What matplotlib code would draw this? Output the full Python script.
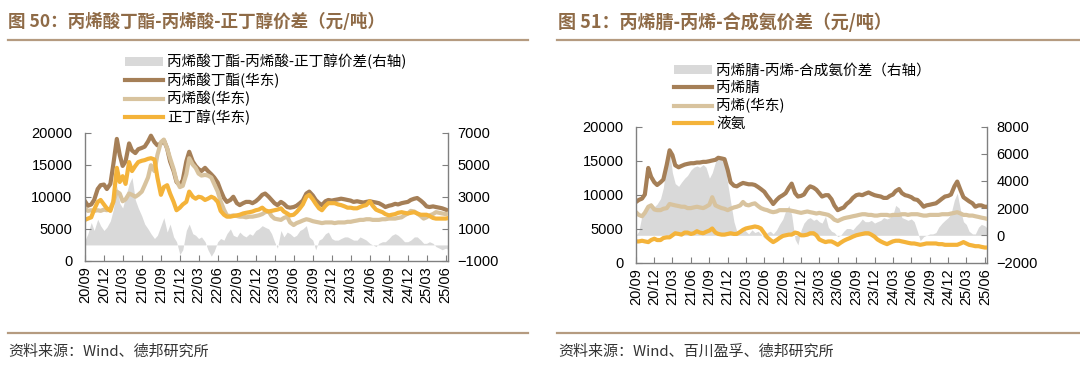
import pandas as pd
import matplotlib.pyplot as plt
from matplotlib.lines import Line2D
from matplotlib.patches import Patch


# ============================================================
# DATA (semi-monthly readings, Sep-2020 .. Jun-2025)
# ============================================================

dates = pd.date_range("2020-09-01", periods=116, freq="SMS")
ticks = pd.date_range("2020-09-01", "2025-06-01", freq="3MS")
tick_labels = [d.strftime("%y/%m") for d in ticks]

# 图50
butyl_acrylate = [
    9300, 8600, 8800, 9500, 11200, 11800, 11900, 11200, 12000, 15000,
    19000, 16500, 14800, 15500, 18300, 17200, 16800, 17400, 17600, 17800,
    18600, 19500, 18500, 18000, 18300, 18800, 17500, 15500, 14000, 12300,
    11800, 12600, 15500, 17000, 15500, 14800, 14300, 14000, 14500, 14000,
    13500, 13000, 12200, 11000, 9800, 9200, 9500, 10000, 9000, 8700,
    9000, 9200, 9200, 9000, 9300, 9700, 10300, 10500, 10000, 9500,
    9000, 8700, 9200, 8900, 8400, 8300, 8400, 8600, 9000, 9400,
    10500, 10800, 10200, 9500, 9000, 8700, 9300, 9500, 9400, 9500,
    9600, 9700, 9600, 9500, 9400, 9200, 9300, 9200, 9100, 9200,
    9300, 9200, 9100, 9000, 8700, 8400, 8600, 8700, 8900, 8800,
    9000, 9100, 9200, 9500, 9700, 9800, 9400, 9000, 8500, 8400,
    8500, 8400, 8300, 8200, 8000, 7800,
]
acrylic_acid = [
    8200, 7800, 7900, 7800, 7900, 7800, 8000, 7900, 8200, 9200,
    10800, 10500, 9300, 9600, 10500, 10300, 10000, 10300, 10800, 11800,
    13000, 14900, 14000, 16500, 18500, 18900, 17500, 16000, 14300, 12500,
    11500, 11700, 13500, 16000, 15000, 14500, 13600, 13300, 13400, 13300,
    13000, 12000, 10800, 9300, 8000, 7100, 7000, 7100, 7000, 6900,
    6900, 6800, 6900, 6900, 7000, 7100, 7300, 7600, 7700, 7000,
    6600, 6500, 6400, 6700, 6900, 6000, 5600, 5900, 6100, 6300,
    6500, 6400, 6200, 6100, 6000, 5900, 6000, 6000, 6000, 5900,
    6000, 6000, 6000, 6100, 6100, 6200, 6300, 6400, 6400, 6500,
    6500, 6400, 6400, 6400, 6500, 6500, 6600, 6600, 6600, 6700,
    6800, 7100, 7400, 7800, 7700, 7400, 7000, 6600, 6800, 7100,
    7300, 7600, 7500, 7400, 7300, 7400,
]
n_butanol = [
    6400, 6600, 6800, 8000, 9200, 9500, 8800, 8200, 7800, 9200,
    14500, 12300, 13200, 12000, 15400, 14000, 14800, 15400, 15600, 15700,
    15900, 16000, 15800, 13000, 10300, 11500, 11800, 10500, 9200, 7900,
    8300, 8800, 9200, 10800, 10000, 9700, 10000, 9900, 9500, 9700,
    10000, 9800, 9200, 7800, 7200, 6900, 6900, 7000, 7100, 7200,
    7400, 7500, 7600, 7700, 7900, 8000, 8300, 7900, 7700, 7800,
    7900, 8000, 8200, 7700, 7400, 7100, 7200, 7600, 8200, 8800,
    10000, 10300, 9600, 8900, 8200, 7900, 8600, 9000, 9000, 9000,
    8800, 8700, 8500, 8300, 8300, 8200, 8200, 8400, 8600, 8700,
    9300, 8600, 8000, 7800, 7600, 7300, 7100, 7200, 7300, 7500,
    7600, 7500, 7400, 7500, 7600, 7400, 7200, 7200, 7200, 7000,
    6700, 6600, 6600, 6600, 6600, 6700,
]
spread_50 = [
    300, 700, 1400, 900, 1600, 1200, 900, 1100, 1500, 2200,
    3700, 2600, 2300, 3000, 3800, 4200, 2800, 2300, 1800, 1300,
    1000, 700, 400, 600, 1200, 1700, 800, 1300, 500, 200,
    -600, -300, 900, 1300, 700, 600, 400, 500, 200, -300,
    -700, -400, 200, 400, 300, 700, 1000, 600, 500, 800,
    600, 500, 700, 600, 900, 1000, 1200, 1100, 1000, 700,
    200, -200, 900, 500, 800, 700, 500, 600, 900, 1000,
    1200, 500, 300, -300, 300, 400, 700, 800, 400, 300,
    300, 400, 500, 500, 400, 300, 300, 500, 400, 300,
    100, 0, -100, 100, 200, 200, 400, 600, 700, 600,
    400, 200, 200, 300, 500, 500, 300, 100, 100, 200,
    100, -100, -200, -300, -200, -300,
]

# 图51
acrylonitrile = [
    8900, 9200, 9400, 10000, 13900, 12600, 11800, 11400, 11800, 12200,
    14400, 16500, 15800, 14300, 14000, 14200, 14400, 14500, 14600, 14600,
    14700, 14700, 14800, 14800, 14900, 15000, 15100, 15400, 15300, 15200,
    13600, 11800, 11300, 11200, 11500, 11700, 11600, 11500, 11500, 11400,
    11100, 10800, 10400, 9800, 9200, 8600, 9200, 9600, 9900, 10200,
    11000, 11600, 10200, 9700, 9800, 10000, 10800, 11200, 11000, 10700,
    10200, 9700, 9900, 9900, 9300, 8400, 7700, 7900, 8100, 8600,
    9000, 9500, 9900, 10000, 9900, 10100, 10300, 10100, 9900, 9800,
    9700, 9500, 9500, 9800, 10000, 10500, 10800, 10200, 9900, 9800,
    9600, 9300, 9200, 8800, 8200, 8400, 8500, 8600, 8700, 9000,
    9400, 9700, 9800, 10000, 11200, 11900, 10600, 9600, 9300, 9000,
    8700, 8200, 8400, 8400, 8200, 8200,
]
propylene = [
    7400, 7000, 6800, 7300, 8200, 8400, 7800, 7700, 7700, 7900,
    8000, 8600, 8500, 8400, 8300, 8200, 8200, 8000, 8000, 8100,
    8200, 8100, 8000, 8200, 8500, 9600, 8400, 8200, 8000, 7900,
    7700, 7900, 8100, 8200, 8400, 8900, 8500, 8400, 8600, 8700,
    8300, 8000, 7800, 7700, 7500, 7400, 7500, 7700, 7700, 7700,
    7700, 7600, 7500, 7400, 7300, 7400, 7500, 7400, 7300, 7200,
    7300, 7200, 7100, 7000, 6700, 6300, 6100, 6300, 6500, 6600,
    6700, 6800, 6900, 7000, 7100, 7100, 7000, 7000, 6900, 6900,
    7000, 7000, 7000, 6900, 7000, 7000, 7000, 7100, 7100, 7000,
    7100, 7100, 7100, 7000, 6900, 6900, 7000, 7000, 7000, 7000,
    7100, 7100, 7100, 7200, 7300, 7400, 7200, 7000, 7000, 6900,
    6900, 6800, 6700, 6600, 6500, 6400,
]
ammonia = [
    3100, 3100, 3200, 3100, 3000, 3300, 3500, 3300, 3300, 3600,
    3700, 3700, 4000, 4300, 4200, 4100, 4400, 4400, 4200, 4300,
    4600, 4400, 4300, 4500, 4700, 5000, 4400, 4200, 4100, 4100,
    4200, 4300, 4200, 4200, 4500, 4800, 5000, 5100, 5200, 5300,
    5200, 5000, 4300, 3700, 3300, 3000, 3300, 3600, 3900, 4000,
    4100, 4100, 4400, 4300, 4000, 4000, 4100, 4300, 4300, 4000,
    3400, 3200, 3000, 3100, 3100, 2900, 2600, 2900, 3200, 3400,
    3600, 3800, 4000, 4100, 4200, 4300, 4300, 4100, 3800, 3400,
    3100, 2900, 2700, 2900, 3100, 3200, 3200, 3100, 3000, 2900,
    2800, 2800, 2700, 2600, 2700, 2800, 2800, 2800, 2800, 2700,
    2700, 2600, 2600, 2600, 2600, 2600, 2800, 3000, 2800, 2600,
    2500, 2400, 2400, 2300, 2200, 2200,
]
spread_51 = [
    0, 300, 1500, 1800, 2200, 2400, 2100, 2300, 2700, 3500,
    5500, 6200, 4600, 3800, 3600, 3900, 4200, 4400, 4800, 5000,
    5100, 5000, 5200, 5000, 4200, 4600, 5400, 5800, 5600, 5500,
    3800, 2500, 1000, 300, 200, 500, 300, 100, 400, 200,
    300, 100, -200, 200, 300, 100, 400, 800, 1200, 1800,
    2200, 1500, -300, -700, 400, 900, 1200, 1300, 1100, 1200,
    1000, 900, 1400, 600, 300, 200, -100, 0, 300, 500,
    500, 400, 700, 900, 1200, 1000, 1000, 1100, 900, 1000,
    1100, 1300, 1200, 1300, 1500, 2200, 2000, 1300, 1200, 1100,
    1200, 1000, 300, -400, -100, 0, 100, 100, 200, 600,
    900, 1100, 1300, 1600, 2600, 3100, 1800, 1000, 800, 300,
    100, 100, 600, 800, 700, 500,
]


# ============================================================
# STYLE
# ============================================================

plt.rcParams["font.family"] = ["Liberation Sans", "Noto Sans CJK SC"]
CJK = ["Noto Sans CJK SC", "DejaVu Sans"]

GRAY = "#D9D9D9"
BROWN = "#A57F57"
TAN = "#D8C39E"
ORANGE = "#F4B33A"
TITLE_C = "#8F6B47"
RULE_C = "#B59B80"
AXIS_C = "#808080"

W, H = 1080, 380
fig = plt.figure(figsize=(W / 100, H / 100), dpi=100)


def fx(px):
    return px / W


def fy(py):
    return 1 - py / H


def panel(box, title, title_size, source, tx, rule, lines, spread,
          spread_name, rlim, rticks, leg_xy, xend):
    x0, y0, x1, y1 = box
    ax = fig.add_axes([fx(x0), fy(y1), fx(x1 - x0), (y1 - y0) / H])
    ax2 = ax.twinx()

    ax2.fill_between(dates, 0, spread, color=GRAY, lw=0)
    for vals, color, name in lines:
        ax.plot(dates, vals, color=color, lw=3.0, solid_joinstyle="round")

    ax.set_zorder(ax2.get_zorder() + 1)
    ax.patch.set_visible(False)

    ax.set_ylim(0, 20000)
    ax.set_yticks(range(0, 20001, 5000))
    ax2.set_ylim(*rlim)
    ax2.set_yticks(rticks)
    ax.set_xlim(pd.Timestamp("2020-09-01"), xend)
    ax.set_xticks(ticks)
    ax.set_xticklabels(tick_labels, rotation=90)

    for a in (ax, ax2):
        for s in a.spines.values():
            s.set_visible(False)
    ax.spines["left"].set_visible(True)
    ax.spines["bottom"].set_visible(True)
    ax2.spines["right"].set_visible(True)
    for s in (ax.spines["left"], ax.spines["bottom"], ax2.spines["right"]):
        s.set_color(AXIS_C)
        s.set_linewidth(1)

    ax.tick_params(axis="y", direction="in", length=4, color=AXIS_C,
                   labelsize=10.5, pad=9)
    ax.tick_params(axis="x", direction="in", length=4, color=AXIS_C,
                   labelsize=10.5, pad=4)
    ax2.tick_params(axis="y", direction="in", length=4, color=AXIS_C,
                    labelsize=10.5, pad=7)

    # legend
    handles = [Patch(color=GRAY, lw=0)]
    labels = [spread_name]
    for vals, color, name in lines:
        handles.append(Line2D([], [], color=color, lw=3))
        labels.append(name)
    fig.legend(handles, labels, loc="upper left",
               bbox_to_anchor=(fx(leg_xy[0]), fy(leg_xy[1])),
               frameon=False, prop={"family": CJK, "size": 10.5},
               handlelength=2.6, handleheight=0.6, handletextpad=0.3,
               labelspacing=0.22, borderpad=0, borderaxespad=0)

    # title, rules, source
    fig.text(fx(tx), fy(22), title, color=TITLE_C, fontsize=title_size,
             fontweight="bold", family=CJK, va="center", ha="left")
    fig.add_artist(Line2D([fx(rule[0]), fx(rule[1])], [fy(40), fy(40)],
                          color=RULE_C, lw=1.6))
    fig.add_artist(Line2D([fx(rule[0]), fx(rule[1])], [fy(333), fy(333)],
                          color=RULE_C, lw=1.6))
    fig.text(fx(tx), fy(352), source, color="#333333", fontsize=10.8,
             family=CJK, va="center", ha="left")


panel(
    (85, 132.5, 448, 261),
    "图 50：丙烯酸丁酯-丙烯酸-正丁醇价差（元/吨）", 12.6,
    "资料来源：Wind、德邦研究所",
    8, (8, 528),
    [(butyl_acrylate, BROWN, "丙烯酸丁酯(华东)"),
     (acrylic_acid, TAN, "丙烯酸(华东)"),
     (n_butanol, ORANGE, "正丁醇(华东)")],
    spread_50, "丙烯酸丁酯-丙烯酸-正丁醇价差(右轴)",
    (-1000, 7000), [-1000, 1000, 3000, 5000, 7000],
    (125, 54), pd.Timestamp("2025-06-12"),
)

panel(
    (636, 126.5, 987, 262.5),
    "图 51：丙烯腈-丙烯-合成氨价差（元/吨）", 13.0,
    "资料来源：Wind、百川盈孚、德邦研究所",
    558, (557, 1080),
    [(acrylonitrile, BROWN, "丙烯腈"),
     (propylene, TAN, "丙烯(华东)"),
     (ammonia, ORANGE, "液氨")],
    spread_51, "丙烯腈-丙烯-合成氨价差（右轴）",
    (-2000, 8000), [-2000, 0, 2000, 4000, 6000, 8000],
    (674, 64), pd.Timestamp("2025-06-12"),
)

fig.savefig("out.png", dpi=100)
